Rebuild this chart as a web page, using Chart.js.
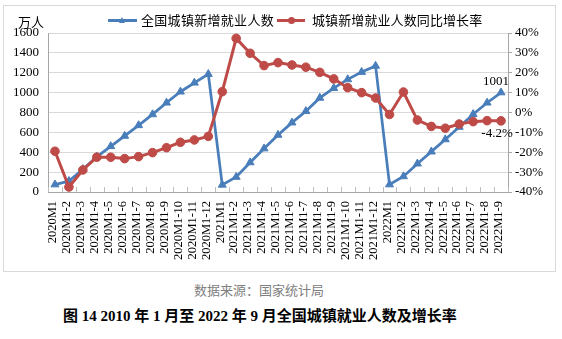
<!DOCTYPE html>
<html><head><meta charset="utf-8">
<script src="https://cdn.jsdelivr.net/npm/chart.js@4"></script>
<style>
html,body{margin:0;padding:0;background:#fff;width:562px;height:339px;overflow:hidden;position:relative;}
#frame{position:absolute;left:3px;top:5px;width:553px;height:267px;border:1px solid #d9d9d9;box-sizing:border-box;}
#wrap{position:absolute;left:0;top:0;width:562px;height:280px;}
.t{position:absolute;white-space:nowrap;font-family:"Noto Sans CJK SC",sans-serif;line-height:16px;}
.ln{position:absolute;height:3px;}
.tri{position:absolute;width:0;height:0;border-left:3.5px solid transparent;border-right:3.5px solid transparent;border-bottom:6px solid #4A7EBB;}
.dot{position:absolute;width:7px;height:7px;border-radius:50%;background:#BE4B48;}
</style></head>
<body>
<div id="frame"></div>
<div id="wrap"><canvas id="c" width="562" height="280"></canvas></div>
<div class="t" style="left:18px;top:14px;font-size:13px;color:#000;">万人</div>
<div class="ln" style="left:108px;top:19px;width:29px;background:#4A7EBB;"></div>
<div class="tri" style="left:119px;top:17px;"></div>
<div class="t" style="left:141px;top:12px;font-size:13px;letter-spacing:0.3px;color:#000;">全国城镇新增就业人数</div>
<div class="ln" style="left:277px;top:19px;width:28px;background:#BE4B48;"></div>
<div class="dot" style="left:287.5px;top:17px;"></div>
<div class="t" style="left:312px;top:12px;font-size:13px;letter-spacing:0.1px;color:#000;">城镇新增就业人数同比增长率</div>
<div class="t" style="left:0;width:518px;text-align:center;top:282px;font-size:13px;color:#808080;">数据来源：国家统计局</div>
<div class="t" style="left:0;width:520px;text-align:center;top:308px;font-size:15px;font-weight:bold;color:#000;font-family:'Liberation Serif','Noto Sans CJK SC',serif;">图 14 2010 年 1 月至 2022 年 9 月全国城镇就业人数及增长率</div>
<script>
const categories = [
  "2020M1","2020M1-2","2020M1-3","2020M1-4","2020M1-5","2020M1-6","2020M1-7","2020M1-8","2020M1-9","2020M1-10","2020M1-11","2020M1-12",
  "2021M1","2021M1-2","2021M1-3","2021M1-4","2021M1-5","2021M1-6","2021M1-7","2021M1-8","2021M1-9","2021M1-10","2021M1-11","2021M1-12",
  "2022M1","2022M1-2","2022M1-3","2022M1-4","2022M1-5","2022M1-6","2022M1-7","2022M1-8","2022M1-9"
];
const newJobs = [
  75, 110, 229, 354, 460, 564, 671, 781, 898, 1009, 1099, 1186,
  72, 151, 297, 437, 574, 698, 813, 947, 1045, 1133, 1207, 1269,
  75, 157, 285, 406, 529, 654, 783, 898, 1001
];
const growth = [
  -19.5, -37.5, -28.9, -22.5, -22.5, -23.2, -22.2, -20.2, -17.7, -15.0, -13.8, -12.0,
  10.5, 37.3, 29.8, 23.6, 25.1, 23.9, 22.8, 20.2, 16.9, 12.5, 10.0, 7.3,
  -1.0, 10.3, -3.8, -7.0, -7.9, -5.8, -4.6, -4.1, -4.2
];
const seriesNames = ["全国城镇新增就业人数", "城镇新增就业人数同比增长率"];
const leftTicks = {min: 0, max: 1600, step: 200};
const rightTicks = {min: -40, max: 40, step: 10};

const extras = {
  id: 'extras',
  afterDatasetsDraw(chart) {
    const ctx = chart.ctx;
    const xs = chart.scales.x;
    const n = categories.length;
    const w = (xs.right - xs.left) / n;
    ctx.save();
    ctx.strokeStyle = '#bfbfbf';
    ctx.lineWidth = 1;
    for (let i = 0; i <= n; i++) {
      const x = Math.round(xs.left + i * w) + 0.5;
      ctx.beginPath();
      ctx.moveTo(x, xs.top);
      ctx.lineTo(x, xs.top - 5);
      ctx.stroke();
    }
    const m0 = chart.getDatasetMeta(0), m1 = chart.getDatasetMeta(1);
    const p0 = m0.data[m0.data.length - 1], p1 = m1.data[m1.data.length - 1];
    ctx.font = '13px "Liberation Serif"';
    ctx.fillStyle = '#000';
    ctx.textAlign = 'center';
    ctx.textBaseline = 'middle';
    ctx.fillText(String(newJobs[newJobs.length - 1]), p0.x - 5, p0.y - 11);
    ctx.fillText(growth[growth.length - 1].toFixed(1) + '%', p1.x - 4, p1.y + 13);
    ctx.restore();
  }
};

new Chart(document.getElementById('c'), {
  type: 'line',
  data: {
    labels: categories,
    datasets: [
      {label: seriesNames[0], data: newJobs, yAxisID: 'y', order: 1,
       borderColor: '#4A7EBB', backgroundColor: '#4A7EBB', borderWidth: 2.75,
       pointStyle: 'triangle', pointRadius: 4.6, pointBorderWidth: 1, tension: 0},
      {label: seriesNames[1], data: growth, yAxisID: 'y1', order: 0,
       borderColor: '#BE4B48', backgroundColor: '#BE4B48', borderWidth: 3,
       pointStyle: 'circle', pointRadius: 4.3, pointBorderWidth: 1, tension: 0}
    ]
  },
  options: {
    responsive: false, animation: false,
    layout: {padding: {top: 33, left: 0, right: 0, bottom: 0}},
    plugins: {legend: {display: false}, tooltip: {enabled: false}},
    scales: {
      x: {
        type: 'category', offset: true,
        grid: {display: false, drawTicks: false},
        border: {display: true, color: '#a6a6a6'},
        ticks: {autoSkip: false, minRotation: 90, maxRotation: 90, padding: 9, labelOffset: -2,
                color: '#000', font: {family: 'Liberation Serif', size: 12.5}},
        afterFit(s) { s.height = 88; }
      },
      y: {
        position: 'left', min: leftTicks.min, max: leftTicks.max,
        grid: {color: '#d9d9d9', drawTicks: false},
        border: {display: true, color: '#a6a6a6'},
        ticks: {stepSize: leftTicks.step, padding: 9, color: '#000', font: {family: 'Liberation Serif', size: 13},
                callback: v => String(v)},
        afterFit(s) { s.width = 48; }
      },
      y1: {
        position: 'right', min: rightTicks.min, max: rightTicks.max,
        grid: {drawOnChartArea: false, drawTicks: true, tickLength: 4, color: '#a6a6a6'},
        border: {display: true, color: '#a6a6a6'},
        ticks: {stepSize: rightTicks.step, padding: 3, color: '#000', font: {family: 'Liberation Serif', size: 13},
                callback: v => v + '%'},
        afterFit(s) { s.width = 54; }
      }
    }
  },
  plugins: [extras]
});
</script>
</body></html>
